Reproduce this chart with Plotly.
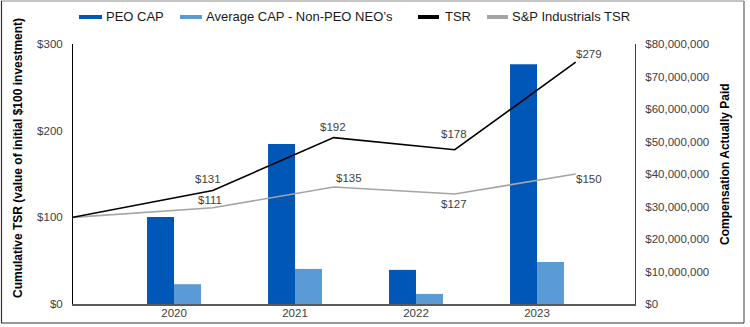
import plotly.graph_objects as go

# ---------------- data ----------------
years = ["2020", "2021", "2022", "2023"]
peo_cap = [26.8e6, 49.2e6, 10.5e6, 73.8e6]
avg_neo_cap = [6.1e6, 10.8e6, 3.1e6, 12.9e6]
tsr_points = ["Start", "2020", "2021", "2022", "2023"]
tsr = [100, 131, 192, 178, 279]
sp_ind_tsr = [100, 111, 135, 127, 150]

# ---------------- styles ----------------
DARK = "#0057B7"
LIGHT = "#5B9BD5"
BLACK = "#000000"
GREY = "#A5A5A5"
TXT = "#404040"
FONT = "Liberation Sans, Arial, sans-serif"

W, H = 750, 327
L, R, T, B = 73, 115, 44, 23
PW, PH = W - L - R, H - T - B

X_MIN, X_MAX = 0.165, 4.81
LINE_OFFSET = 0.32
bar_x = [i + 1 for i in range(len(years))]
line_x = [X_MIN] + [i + 1 + LINE_OFFSET for i in range(len(years))]


def px2x(px):
    return (px - L) / PW


def py2y(py):
    return (H - B - py) / PH


fig = go.Figure()

# bars on primary y (right side), lines on y2 (left side) so lines draw on top
fig.add_trace(go.Bar(x=bar_x, y=peo_cap, name="PEO CAP", marker=dict(color=DARK, line=dict(width=0)),
                     yaxis="y", showlegend=False))
fig.add_trace(go.Bar(x=bar_x, y=avg_neo_cap, name="Average CAP - Non-PEO NEO\u2019s",
                     marker=dict(color=LIGHT, line=dict(width=0)), yaxis="y", showlegend=False))
fig.add_trace(go.Scatter(x=line_x, y=sp_ind_tsr, mode="lines", name="S&P Industrials TSR",
                         line=dict(color=GREY, width=1.6), yaxis="y2", showlegend=False, cliponaxis=False))
fig.add_trace(go.Scatter(x=line_x, y=tsr, mode="lines", name="TSR",
                         line=dict(color=BLACK, width=1.6), yaxis="y2", showlegend=False, cliponaxis=False))

annotations = []
# data labels (offsets in px: dx, dy up)
tsr_off = [None, (-5, 11), (-1, 11), (-1, 16), (13, 8)]
sp_off = [None, (-3, 8), (15, 9), (-1, -10), (13, -5)]
for i in range(1, len(tsr_points)):
    for vals, offs in ((tsr, tsr_off), (sp_ind_tsr, sp_off)):
        dx, dy = offs[i]
        annotations.append(dict(x=line_x[i], y=vals[i], xref="x", yref="y2", text=f"${vals[i]}",
                                showarrow=False, xshift=dx, yshift=dy, xanchor="center", yanchor="middle",
                                font=dict(size=11.5, color=TXT, family=FONT)))

# axis titles
annotations.append(dict(x=px2x(18), y=py2y(158), xref="paper", yref="paper",
                        text="<b>Cumulative TSR (value of initial $100 investment)</b>",
                        xanchor="center", yanchor="middle",
                        textangle=-90, showarrow=False, font=dict(size=12, color=BLACK, family=FONT)))
annotations.append(dict(x=px2x(725), y=py2y(164), xref="paper", yref="paper",
                        text="<b>Compensation Actually Paid</b>",
                        xanchor="center", yanchor="middle",
                        textangle=-90, showarrow=False, font=dict(size=12, color=BLACK, family=FONT)))

# manual legend
legend_items = [
    ("PEO CAP", DARK, 79, 102, 104),
    ("Average CAP - Non-PEO NEO\u2019s", LIGHT, 180, 202, 204),
    ("TSR", BLACK, 418, 439, 443),
    ("S&P Industrials TSR", GREY, 487, 508, 510),
]
shapes = []
LEG_Y = 17
for label, col, x0, x1, tx in legend_items:
    shapes.append(dict(type="line", xref="paper", yref="paper", x0=px2x(x0), x1=px2x(x1),
                       y0=py2y(LEG_Y), y1=py2y(LEG_Y), line=dict(color=col, width=4)))
    annotations.append(dict(x=px2x(tx), y=py2y(LEG_Y), xref="paper", yref="paper", text=label,
                            xanchor="left", yanchor="middle", showarrow=False,
                            font=dict(size=13, color="#1a1a1a", family=FONT)))

# outer frame
shapes += [
    dict(type="line", xref="paper", yref="paper", x0=px2x(1), x1=px2x(744), y0=py2y(1), y1=py2y(1),
         line=dict(color="#8c8c8c", width=1.2)),
    dict(type="line", xref="paper", yref="paper", x0=px2x(744), x1=px2x(744), y0=py2y(1), y1=py2y(323),
         line=dict(color="#a0a0a0", width=2)),
    dict(type="line", xref="paper", yref="paper", x0=px2x(1), x1=px2x(744), y0=py2y(323), y1=py2y(323),
         line=dict(color="#333333", width=1.2)),
    dict(type="line", xref="paper", yref="paper", x0=px2x(1.5), x1=px2x(1.5), y0=py2y(1), y1=py2y(323),
         line=dict(color="#333333", width=1.2)),
]

fig.update_layout(
    template="none",
    width=W, height=H,
    margin=dict(l=L, r=R, t=T, b=B, pad=0, autoexpand=False),
    paper_bgcolor="white", plot_bgcolor="white",
    font=dict(family=FONT, size=11.5, color=TXT),
    barmode="group", bargap=0.554, bargroupgap=0,
    showlegend=False,
    xaxis=dict(range=[X_MIN, X_MAX], tickvals=bar_x, ticktext=years, showgrid=False, zeroline=False,
               automargin=False,
               showline=True, linecolor="#595959", linewidth=1.5, ticks="", ticklabelstandoff=-3,
               tickfont=dict(size=11.5, color=TXT)),
    yaxis=dict(range=[0, 80e6], dtick=10e6, side="right", showgrid=False, zeroline=False,
               automargin=False,
               showline=True, linecolor="#404040", linewidth=1, ticks="", tickprefix="$",
               tickformat=",.0f", ticklabelstandoff=7, tickfont=dict(size=11.5, color=TXT)),
    yaxis2=dict(range=[0, 300], dtick=100, side="left", overlaying="y", showgrid=False, zeroline=False,
                automargin=False,
                showline=True, linecolor="#000000", linewidth=1, ticks="", tickprefix="$",
                ticklabelstandoff=7, tickfont=dict(size=11.5, color=TXT)),
    annotations=annotations,
    shapes=shapes,
)

fig.write_html("out.html")
